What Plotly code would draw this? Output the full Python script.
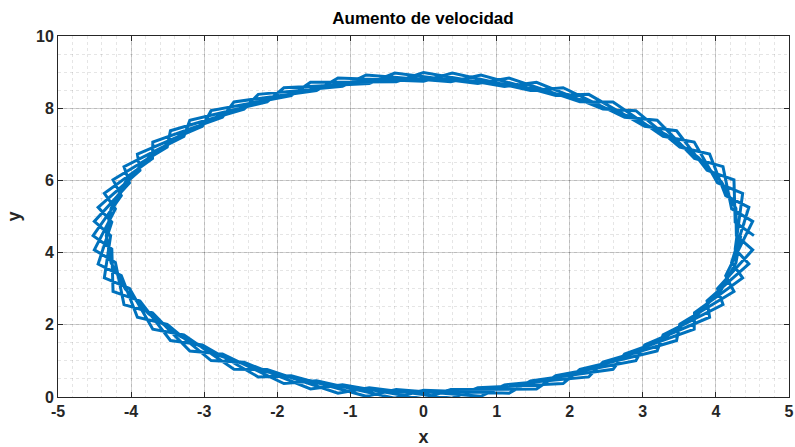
import plotly.graph_objects as go

# Trajectory, split into the successive loops
loop1_x = [4.520, 4.264, 4.247, 3.879, 3.462, 3.026, 2.260, 1.809, 0.785, 0.373,
           -0.785, -1.108, -2.260, -2.455, -3.462, -3.506, -4.247, -4.134, -4.520, -4.264,
           -4.247, -3.879, -3.462, -3.026, -2.260, -1.809, -0.785, -0.373, 0.785, 1.108,
           2.260, 2.455, 3.462, 3.506, 4.247, 4.134]
loop1_y = [4.470, 4.843, 6.016, 6.279, 7.375, 7.496, 8.384, 8.349, 8.921, 8.734,
           8.921, 8.604, 8.384, 7.976, 7.375, 6.925, 6.016, 5.578, 4.470, 4.097,
           2.924, 2.661, 1.565, 1.444, 0.556, 0.591, 0.019, 0.206, 0.019, 0.336,
           0.556, 0.964, 1.565, 2.015, 2.924, 3.362]

loop2_x = [4.503, 4.215, 4.097, 3.707, 3.196, 2.751, 1.910, 1.464, 0.394, 0.000,
           -1.170, -1.464, -2.593, -2.751, -3.703, -3.707, -4.366, -4.215, -4.503, -4.215,
           -4.097, -3.707, -3.196, -2.751, -1.910, -1.464, -0.394, 0.000, 1.170, 1.464,
           2.593, 2.751, 3.703, 3.707, 4.366, 4.215]
loop2_y = [4.864, 5.213, 6.380, 6.610, 7.666, 7.748, 8.567, 8.492, 8.973, 8.750,
           8.836, 8.492, 8.173, 7.748, 7.063, 6.610, 5.640, 5.213, 4.076, 3.727,
           2.560, 2.330, 1.274, 1.192, 0.373, 0.448, -0.033, 0.190, 0.104, 0.448,
           0.767, 1.192, 1.877, 2.330, 3.300, 3.727]

loop3_x = [4.451, 4.134, 3.914, 3.506, 2.905, 2.455, 1.546, 1.108, 0.000, -0.373,
           -1.546, -1.809, -2.905, -3.026, -3.914, -3.879, -4.451, -4.264, -4.451, -4.134,
           -3.914, -3.506, -2.905, -2.455, -1.546, -1.108, 0.000, 0.373, 1.546, 1.809,
           2.905, 3.026, 3.914, 3.879, 4.451, 4.264]
loop3_y = [5.255, 5.578, 6.730, 6.925, 7.932, 7.976, 8.717, 8.604, 8.990, 8.734,
           8.717, 8.349, 7.932, 7.496, 6.730, 6.279, 5.255, 4.843, 3.685, 3.362,
           2.210, 2.015, 1.008, 0.964, 0.223, 0.336, -0.050, 0.206, 0.223, 0.591,
           1.008, 1.444, 2.210, 2.661, 3.685, 4.097]

loop4_x = [4.366, 4.022, 3.703, 3.278, 2.593, 2.140, 1.170, 0.743, -0.394, -0.743,
           -1.910, -2.140, -3.196, -3.278, -4.097, -4.022, -4.503, -4.280, -4.366, -4.022,
           -3.703, -3.278, -2.593, -2.140, -1.170, -0.743, 0.394, 0.743, 1.910, 2.140,
           3.196, 3.278, 4.097, 4.022, 4.503, 4.280]
loop4_y = [5.640, 5.934, 7.063, 7.221, 8.173, 8.177, 8.836, 8.685, 8.973, 8.685,
           8.567, 8.177, 7.666, 7.221, 6.380, 5.934, 4.864, 4.470, 3.300, 3.006,
           1.877, 1.719, 0.767, 0.763, 0.104, 0.255, -0.033, 0.255, 0.373, 0.763,
           1.274, 1.719, 2.560, 3.006, 4.076, 4.470]

loop5_x = [4.274, 4.078, 3.759, 3.324, 2.790, 2.170, 1.484, 0.753, 0.000, -0.753,
           -1.484, -2.170, -2.790, -3.324, -3.759, -4.078, -4.274, -4.340, -4.274, -4.078,
           -3.759, -3.324, -2.790, -2.170, -1.484, -0.753, 0.000, 0.753, 1.484, 2.170,
           2.790, 3.324, 3.759, 4.078, 4.274, 4.340]
loop5_y = [5.223, 5.954, 6.640, 7.260, 7.794, 8.229, 8.548, 8.744, 8.810, 8.744,
           8.548, 8.229, 7.794, 7.260, 6.640, 5.954, 5.223, 4.470, 3.717, 2.986,
           2.300, 1.680, 1.146, 0.711, 0.392, 0.196, 0.130, 0.196, 0.392, 0.711,
           1.146, 1.680, 2.300, 2.986, 3.717, 4.470]

x_ticks = [-5, -4, -3, -2, -1, 0, 1, 2, 3, 4, 5]
y_ticks = [0, 2, 4, 6, 8, 10]

path_x = loop1_x + loop2_x + loop3_x + loop4_x + loop5_x
path_y = loop1_y + loop2_y + loop3_y + loop4_y + loop5_y

FONT = "Liberation Sans, Arial, sans-serif"
DARK = "#262626"

fig = go.Figure()
fig.add_trace(go.Scatter(
    x=path_x, y=path_y, mode="lines",
    line=dict(color="#0072BD", width=3),
    showlegend=False, hoverinfo="skip",
))

axis_common = dict(
    showline=True, linecolor=DARK, linewidth=1, mirror="ticks",
    ticks="inside", ticklen=5, tickwidth=1, tickcolor=DARK,
    showgrid=True, gridcolor="rgba(0,0,0,0.18)", gridwidth=1,
    zeroline=False, automargin=False,
    tickfont=dict(family=FONT, size=16, color=DARK, weight="bold"),
)

fig.update_xaxes(
    range=[-5, 5], tickmode="array", tickvals=x_ticks,
    ticktext=[str(v) for v in x_ticks],
    title=dict(text="x", font=dict(family=FONT, size=18, color=DARK, weight="bold"), standoff=16),
    minor=dict(dtick=0.2, showgrid=True, gridcolor="rgba(0,0,0,0.10)", griddash="dot", ticks=""),
    **axis_common,
)
fig.update_yaxes(
    range=[0, 10], tickmode="array", tickvals=y_ticks,
    ticktext=[str(v) for v in y_ticks],
    title=dict(text="y", font=dict(family=FONT, size=18, color=DARK, weight="bold"), standoff=10),
    minor=dict(dtick=0.5, showgrid=True, gridcolor="rgba(0,0,0,0.10)", griddash="dot", ticks=""),
    **axis_common,
)

fig.update_layout(
    width=795, height=447,
    margin=dict(l=58, r=6, t=36, b=50),
    paper_bgcolor="white", plot_bgcolor="white",
    title=dict(text="Aumento de velocidad", x=0.532, xanchor="center", y=0.96, yanchor="middle",
               font=dict(family=FONT, size=17, color="black", weight="bold")),
)

fig.write_html("out.html")
